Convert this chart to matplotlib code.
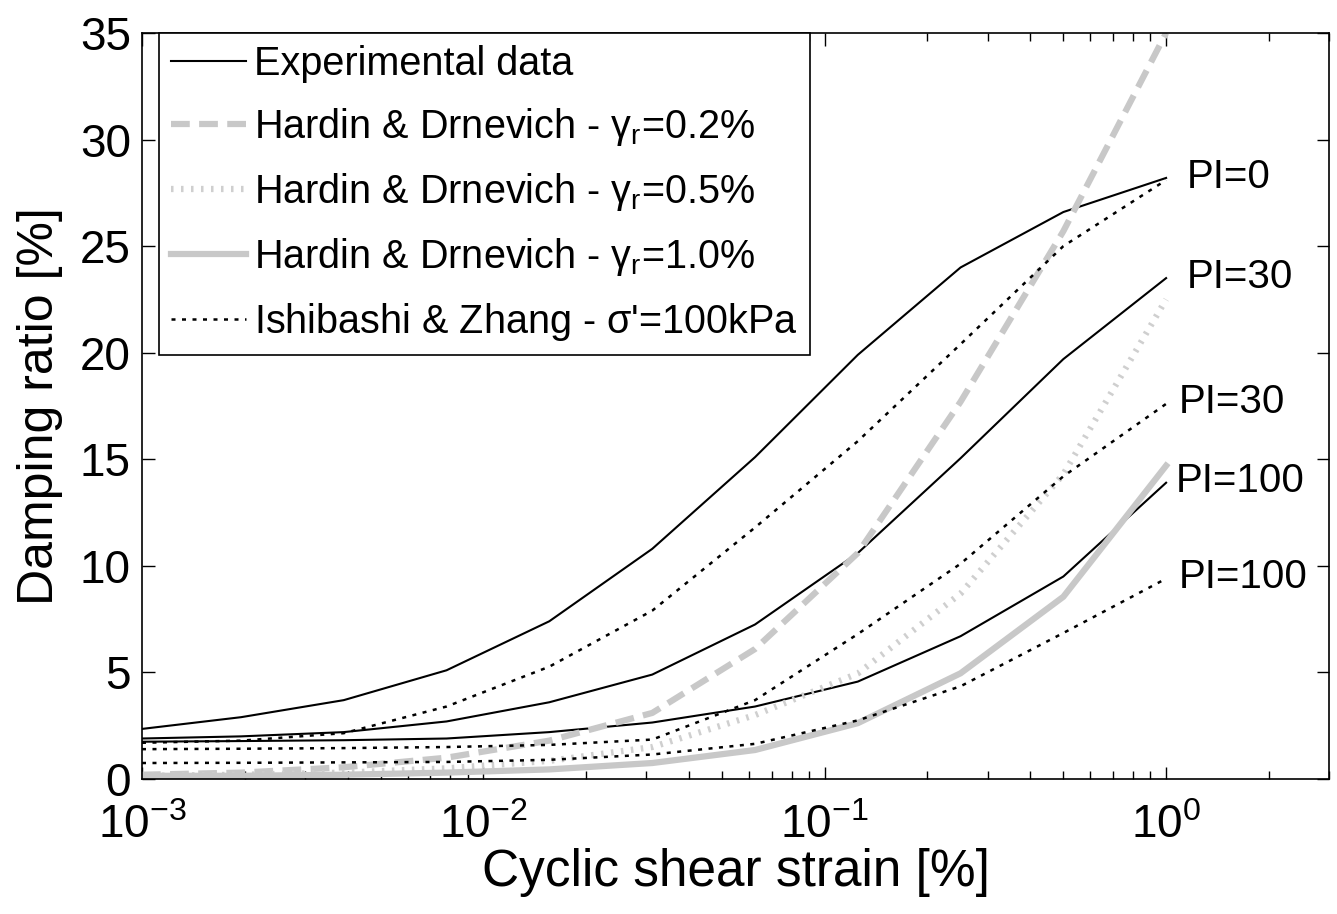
import matplotlib.pyplot as plt
from matplotlib.ticker import LogLocator, LogFormatterSciNotation, NullFormatter

plt.rcParams['font.family'] = ['Liberation Sans', 'DejaVu Sans']
plt.rcParams['mathtext.fontset'] = 'custom'
plt.rcParams['mathtext.rm'] = 'Liberation Sans'
plt.rcParams['mathtext.it'] = 'Liberation Sans'
plt.rcParams['mathtext.default'] = 'regular'

# cyclic shear strain [%] (doubling steps)
strain = [0.001, 0.00195, 0.0039, 0.0078, 0.0156, 0.03125, 0.0625, 0.125, 0.25, 0.5, 1.0]

# experimental damping ratio [%]
exp_pi0 = [2.35, 2.9, 3.7, 5.1, 7.4, 10.8, 15.1, 19.9, 24.0, 26.6, 28.2]
exp_pi30 = [1.9, 2.0, 2.2, 2.7, 3.6, 4.9, 7.25, 10.6, 15.05, 19.7, 23.5]
exp_pi100 = [1.75, 1.78, 1.82, 1.9, 2.2, 2.65, 3.4, 4.57, 6.7, 9.5, 13.9]

# Hardin & Drnevich
hd_02 = [0.2, 0.3, 0.55, 1.0, 1.8, 3.1, 6.1, 10.6, 17.7, 25.7, 35.0]
hd_05 = [0.15, 0.2, 0.3, 0.5, 0.85, 1.5, 3.0, 4.95, 8.7, 14.3, 22.5]
hd_10 = [0.15, 0.15, 0.2, 0.3, 0.45, 0.75, 1.36, 2.62, 4.96, 8.55, 14.7]

# Ishibashi & Zhang, sigma' = 100 kPa
iz_pi0 = [1.7, 1.8, 2.15, 3.4, 5.27, 7.9, 11.8, 15.85, 20.4, 25.0, 28.1]
iz_pi30 = [1.4, 1.42, 1.45, 1.5, 1.6, 1.85, 3.7, 6.8, 10.1, 14.2, 17.6]
iz_pi100 = [0.75, 0.76, 0.78, 0.8, 0.9, 1.15, 1.65, 2.75, 4.35, 6.85, 9.4]

end_labels = ['PI=0', 'PI=30', 'PI=30', 'PI=100', 'PI=100']

fig = plt.figure(figsize=(13.37, 9.14), dpi=100)
ax = fig.add_axes([0.1062, 0.1477, 0.8878, 0.8162])

# experimental
l_exp, = ax.plot(strain, exp_pi0, color='black', lw=1.5)
ax.plot(strain, exp_pi30, color='black', lw=1.5)
ax.plot(strain, exp_pi100, color='black', lw=1.5)

# Hardin & Drnevich
l_hd02, = ax.plot(strain, hd_02, color='#c8c8c8', lw=4.5, linestyle=(0, (3.0, 1.5)))
l_hd05, = ax.plot(strain, hd_05, color='#cfcfcf', lw=4.5, linestyle=(0, (0.4, 1.2)))
l_hd10, = ax.plot(strain, hd_10, color='#c8c8c8', lw=4.5)

# Ishibashi & Zhang
l_iz, = ax.plot(strain, iz_pi0, color='black', lw=1.8, linestyle=(0, (1.6, 2.6)))
ax.plot(strain, iz_pi30, color='black', lw=1.8, linestyle=(0, (1.6, 2.6)))
ax.plot(strain, iz_pi100, color='black', lw=1.8, linestyle=(0, (1.6, 2.6)))

# labels at curve ends
label_series = [exp_pi0, exp_pi30, iz_pi30, exp_pi100, iz_pi100]
offsets = [15, 15, 9, 7, 9]
for lab, s, off in zip(end_labels, label_series, offsets):
    ax.annotate(lab, xy=(strain[-1], s[-1]), xytext=(off, 1), textcoords='offset points',
                ha='left', va='center', fontsize=29)

ax.set_xscale('log')
ax.set_xlim(1e-3, 3)
ax.set_ylim(0, 35)
ax.set_yticks(range(0, 36, 5))
ax.xaxis.set_major_locator(LogLocator(base=10, numticks=10))
ax.xaxis.set_major_formatter(LogFormatterSciNotation())
ax.xaxis.set_minor_locator(LogLocator(base=10, subs=range(2, 10), numticks=20))
ax.xaxis.set_minor_formatter(NullFormatter())

ax.tick_params(which='both', direction='in', top=True, right=True, labelsize=33, width=1)
ax.tick_params(which='major', length=9, pad=8)
ax.tick_params(axis='x', which='major', pad=18)
ax.tick_params(which='minor', length=5.5)
for sp in ax.spines.values():
    sp.set_linewidth(1.2)

ax.set_xlabel('Cyclic shear strain [%]', fontsize=37, labelpad=0)
ax.set_ylabel('Damping ratio [%]', fontsize=36, labelpad=12)

leg = ax.legend([l_exp, l_hd02, l_hd05, l_hd10, l_iz],
                ['Experimental data',
                 r'Hardin & Drnevich - $\gamma_r$=0.2%',
                 r'Hardin & Drnevich - $\gamma_r$=0.5%',
                 r'Hardin & Drnevich - $\gamma_r$=1.0%',
                 r"Ishibashi & Zhang - $\sigma$'=100kPa"],
                loc='upper left', bbox_to_anchor=(0.0143, 1.0), borderaxespad=0,
                fontsize=28.5, handlelength=1.9, handletextpad=0.2, borderpad=0.3,
                labelspacing=0.58, fancybox=False, framealpha=1, edgecolor='black')
leg.get_frame().set_linewidth(1.2)

fig.savefig('out.png', dpi=100)
